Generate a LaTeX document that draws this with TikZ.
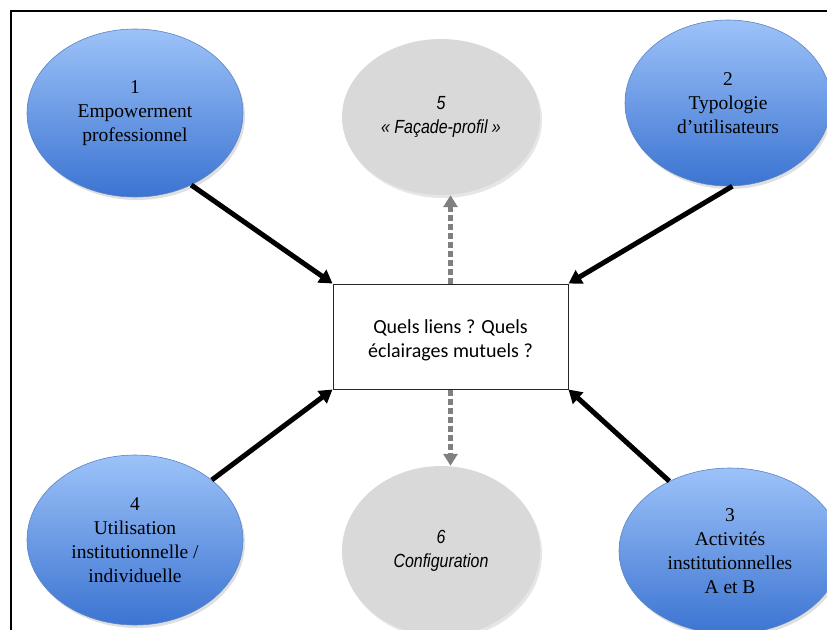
\documentclass[tikz,border=0pt]{standalone}
\usepackage{fontspec}
\setmainfont{Liberation Serif}
\newfontfamily\boxfont{Carlito}
\newfontfamily\grayfont[FakeStretch=0.84]{Liberation Sans}
\usetikzlibrary{shapes.geometric,arrows.meta,shadows}
\definecolor{btop}{HTML}{9CC2F8}
\definecolor{bbot}{HTML}{3C74D2}
\definecolor{bdraw}{HTML}{5A84C4}
\definecolor{gfill}{HTML}{D9D9D9}
\definecolor{garrow}{HTML}{808080}
\begin{document}
\begin{tikzpicture}[x=1pt,y=-1pt,
  blueell/.style={ellipse, draw=bdraw, line width=0.6pt, top color=btop, bottom color=bbot,
    inner sep=0pt, align=center, font=\fontsize{19.5}{24}\selectfont,
    drop shadow={opacity=0.25, shadow xshift=2pt, shadow yshift=-3pt}},
  grayell/.style={ellipse, fill=gfill, inner sep=0pt, align=center,
    font=\grayfont\itshape\fontsize{19}{24}\selectfont,
    drop shadow={opacity=0.2, shadow xshift=2pt, shadow yshift=-3pt}},
  centerbox/.style={rectangle, draw=black!85, line width=1pt, fill=white, align=center,
    minimum width=235pt, minimum height=105pt, font=\boxfont\fontsize{20}{24}\selectfont},
  blackarrow/.style={line width=5pt, draw=black, -{Triangle[length=13pt,width=15pt]}},
  grayarrow/.style={line width=5pt, draw=garrow, dash pattern=on 6pt off 3pt,
    -{Triangle[length=12pt,width=14pt]}},
  framestyle/.style={line width=2.2pt, draw=black}
]
\useasboundingbox (0,0) rectangle (827,629);

\node[blueell, minimum width=216pt, minimum height=168pt] (e1) at (135,113) {1\\Empowerment\\professionnel};
\node[blueell, minimum width=206pt, minimum height=166pt] (e2) at (728,103) {2\\Typologie\\d’utilisateurs};
\node[blueell, minimum width=222pt, minimum height=166pt] (e3) at (730,551) {3\\Activités\\institutionnelles\\A et B};
\node[blueell, minimum width=216pt, minimum height=170pt] (e4) at (135,540) {4\\Utilisation\\institutionnelle /\\individuelle};
\node[grayell, minimum width=198pt, minimum height=156pt] (e5) at (441,117) {5\\« Façade-profil »};
\node[grayell, minimum width=198pt, minimum height=170pt] (e6) at (441,551) {6\\Configuration};

\node[centerbox] (box) at (450.5,336.5) {\rule{0pt}{22pt}Quels liens ? Quels\\éclairages mutuels ?};

\coordinate (fc) at (11,11);
\coordinate (fr) at (830,11);
\coordinate (fb) at (11,632);
\draw[framestyle] (fr) -- (fc) -- (fb);

\draw[blackarrow] (e1.-52) -- (box.north west);
\draw[blackarrow] (e2.-87) -- (box.north east);
\draw[blackarrow] (e4.38) -- (box.south west);
\draw[blackarrow] (e3.131) -- (box.south east);

\draw[grayarrow] (box.north) -- (box.north |- e5.south);
\draw[grayarrow] (box.south) -- (box.south |- e6.north);
\end{tikzpicture}
\end{document}
